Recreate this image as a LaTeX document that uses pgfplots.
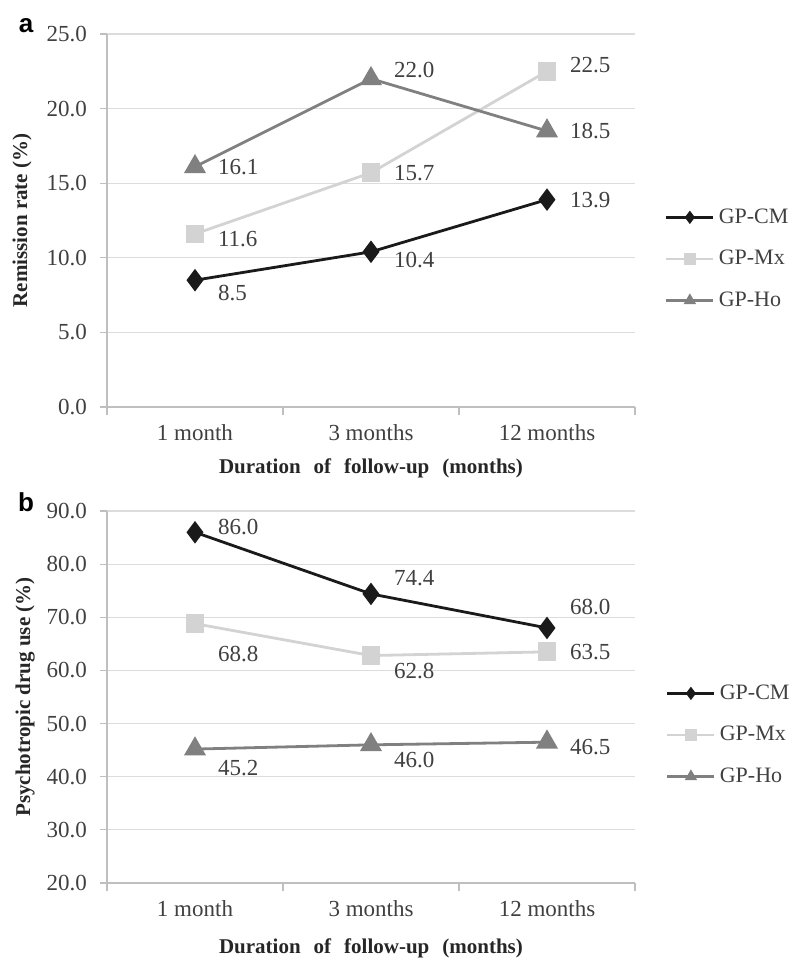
\documentclass[border=0pt]{standalone}
\usepackage{pgfplots}
\pgfplotsset{compat=1.18}
\usepackage{pgfplotstable}
\usepackage{fontspec}
\setmainfont{Liberation Serif}
\newfontfamily\panelfont{Liberation Sans}
\definecolor{cmcol}{HTML}{1A1A1A}
\definecolor{mxcol}{HTML}{D3D3D3}
\definecolor{hocol}{HTML}{808080}
\definecolor{txt}{HTML}{404040}
\definecolor{gridc}{HTML}{DCDCDC}
\definecolor{axc}{HTML}{BFBFBF}

% dy = vertical offset of the value label, in pt
\pgfplotstableread{
x y dy lab
0 8.5 -6.5 8.5
1 10.4 -4 10.4
2 13.9 0 13.9
}\aCM
\pgfplotstableread{
x y dy lab
0 11.6 -2.5 11.6
1 15.7 0 15.7
2 22.5 3 22.5
}\aMX
\pgfplotstableread{
x y dy lab
0 16.1 0 16.1
1 22.0 4.5 22.0
2 18.5 0 18.5
}\aHO
\pgfplotstableread{
x y dy lab
0 86.0 2.5 86.0
1 74.4 8 74.4
2 68.0 10.5 68.0
}\bCM
\pgfplotstableread{
x y dy lab
0 68.8 -15 68.8
1 62.8 -7.5 62.8
2 63.5 0 63.5
}\bMX
\pgfplotstableread{
x y dy lab
0 45.2 -9.5 45.2
1 46.0 -7.5 46.0
2 46.5 -2.5 46.5
}\bHO

\newcommand{\wsp}{\hspace{6.5pt}}
\pgfplotsset{
 common/.style={
  scale only axis, width=264pt,
  xmin=-0.5, xmax=2.5, xtick={0,1,2}, xticklabels={1 month,3 months,12 months},
  minor xtick={-0.5,0.5,1.5,2.5},
  axis x line*=bottom, axis y line*=left, axis line style={axc, -, line width=0.8pt},
  tick align=outside, major tick length=3.5pt, minor tick length=4pt,
  major x tick style={draw=none}, minor x tick style={draw=axc, line width=0.8pt}, ytick style={draw=axc, line width=0.6pt},
  ymajorgrids, grid style={gridc, line width=0.6pt},
  tick label style={font=\fontsize{11.5}{13}\selectfont, text=txt},
  xticklabel style={yshift=-1.75pt},
  yticklabel style={xshift=-3pt, /pgf/number format/fixed, /pgf/number format/fixed zerofill, /pgf/number format/precision=1},
  /pgf/number format/assume math mode=true,
  label style={font=\bfseries\fontsize{10.5}{12}\selectfont, text=black!85},
  legend style={draw=none, fill=none, inner sep=0pt, font=\fontsize{11}{13}\selectfont, text=txt, cells={anchor=west}, row sep=8pt},
  clip=false,
 },
 leg/.style={legend image code/.code={
   \draw[mark=none] (0pt,0pt) -- (23.5pt,0pt);
   \draw[only marks, mark size=2.2pt] plot coordinates {(11.75pt,0pt)};}},
 cm/.style={color=cmcol, line width=1.4pt, mark=diamond*, mark size=4.5pt, leg},
 mx/.style={color=mxcol, line width=1.4pt, mark=square*, mark size=4pt, leg},
 ho/.style={color=hocol, line width=1.4pt, mark=triangle*, mark size=5pt, leg},
 labs/.style={draw=none, mark=none, forget plot, nodes near coords, point meta=explicit symbolic,
   nodes near coords style={anchor=west, xshift=8pt, font=\fontsize{11.5}{13}\selectfont, text=txt}},
}

\begin{document}
\begin{tikzpicture}
\path[use as bounding box] (0,0) rectangle (397pt,480pt);

\begin{axis}[common, at={(53.5pt,276.5pt)}, anchor=south west, height=186.5pt,
  ymin=0, ymax=25, ytick={0,5,...,25},
  ylabel={Remission rate (\%)},
  xlabel={Duration\wsp of\wsp follow-up\wsp (months)},
  ylabel style={at={(axis description cs:-0.161,0.5)}, anchor=center},
  xlabel style={at={(axis description cs:0.5,-0.1635)}, anchor=center},
  legend style={at={(1.056,0.397)}, anchor=west},
]
\addplot[cm] table[x=x,y=y]{\aCM};
\addlegendentry{GP-CM}
\addplot[mx] table[x=x,y=y]{\aMX};
\addlegendentry{GP-Mx}
\addplot[ho] table[x=x,y=y]{\aHO};
\addlegendentry{GP-Ho}
\addplot[labs] table[x=x,y expr=\thisrow{y}+\thisrow{dy}/7.46,meta=lab]{\aCM};
\addplot[labs] table[x=x,y expr=\thisrow{y}+\thisrow{dy}/7.46,meta=lab]{\aMX};
\addplot[labs] table[x=x,y expr=\thisrow{y}+\thisrow{dy}/7.46,meta=lab]{\aHO};
\end{axis}

\begin{axis}[common, at={(53.5pt,38.5pt)}, anchor=south west, height=186pt,
  ymin=20, ymax=90, ytick={20,30,...,90},
  ylabel={Psychotropic drug use (\%)},
  xlabel={Duration\wsp of\wsp follow-up\wsp (months)},
  ylabel style={at={(axis description cs:-0.155,0.5)}, anchor=center},
  xlabel style={at={(axis description cs:0.5,-0.175)}, anchor=center},
  legend style={at={(1.058,0.398)}, anchor=west},
]
\addplot[cm] table[x=x,y=y]{\bCM};
\addlegendentry{GP-CM}
\addplot[mx] table[x=x,y=y]{\bMX};
\addlegendentry{GP-Mx}
\addplot[ho] table[x=x,y=y]{\bHO};
\addlegendentry{GP-Ho}
\addplot[labs] table[x=x,y expr=\thisrow{y}+\thisrow{dy}/2.657,meta=lab]{\bCM};
\addplot[labs] table[x=x,y expr=\thisrow{y}+\thisrow{dy}/2.657,meta=lab]{\bMX};
\addplot[labs] table[x=x,y expr=\thisrow{y}+\thisrow{dy}/2.657,meta=lab]{\bHO};
\end{axis}

\node[font=\panelfont\bfseries\fontsize{13}{15}\selectfont, anchor=center] at (13pt,467pt) {a};
\node[font=\panelfont\bfseries\fontsize{13}{15}\selectfont, anchor=center] at (13pt,229pt) {b};
\end{tikzpicture}
\end{document}
